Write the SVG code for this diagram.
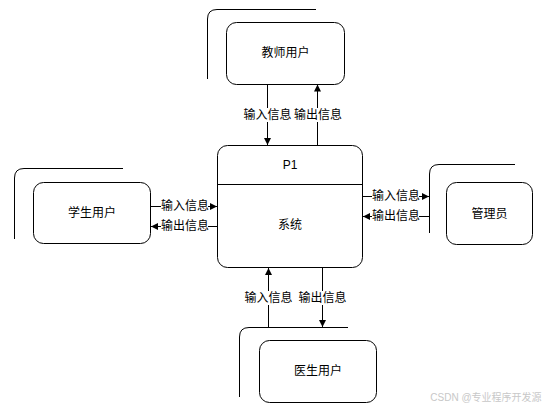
<svg xmlns="http://www.w3.org/2000/svg" width="544" height="410" viewBox="0 0 544 410">
<style>
.box{fill:#fff;stroke:#000;stroke-width:1}
.deco{fill:none;stroke:#000;stroke-width:1}
.t{font-family:"Liberation Sans","Noto Sans CJK SC",sans-serif;font-size:12px;fill:#000;text-anchor:middle;dominant-baseline:central}
.ln{fill:none;stroke:#000;stroke-width:1}
.bg{fill:#fff}
</style>
<defs>
<marker id="ah" viewBox="0 0 10 10" refX="10" refY="5" markerWidth="7" markerHeight="7" orient="auto" markerUnits="userSpaceOnUse">
<path d="M0,0 L10,5 L0,10 z" fill="#000"/>
</marker>
</defs>
<rect width="544" height="410" fill="#fff"/>
<g id="connectors">
<line class="ln" x1="267.5" y1="84.5" x2="267.5" y2="145" marker-end="url(#ah)"/>
<line class="ln" x1="317.5" y1="145" x2="317.5" y2="84.5" marker-end="url(#ah)"/>
<line class="ln" x1="151" y1="206.5" x2="217" y2="206.5" marker-end="url(#ah)"/>
<line class="ln" x1="217" y1="226.5" x2="151" y2="226.5" marker-end="url(#ah)"/>
<line class="ln" x1="363" y1="196.5" x2="429" y2="196.5" marker-end="url(#ah)"/>
<line class="ln" x1="429" y1="216.5" x2="363" y2="216.5" marker-end="url(#ah)"/>
<line class="ln" x1="268.5" y1="327" x2="268.5" y2="268" marker-end="url(#ah)"/>
<line class="ln" x1="322.5" y1="268" x2="322.5" y2="327" marker-end="url(#ah)"/>
<rect class="bg" x="244" y="108" width="47" height="14"/>
<text class="t" x="267.5" y="115">输入信息</text>
<rect class="bg" x="294" y="108" width="47" height="14"/>
<text class="t" x="318" y="115">输出信息</text>
<rect class="bg" x="161" y="199" width="47" height="14"/>
<text class="t" x="185" y="206">输入信息</text>
<rect class="bg" x="161" y="219" width="47" height="14"/>
<text class="t" x="185" y="226">输出信息</text>
<rect class="bg" x="372" y="189" width="47" height="14"/>
<text class="t" x="396" y="196">输入信息</text>
<rect class="bg" x="372" y="209" width="47" height="14"/>
<text class="t" x="396" y="216">输出信息</text>
<rect class="bg" x="245" y="291" width="47" height="14"/>
<text class="t" x="268.5" y="298">输入信息</text>
<rect class="bg" x="299" y="291" width="47" height="14"/>
<text class="t" x="322.5" y="298">输出信息</text>
</g>
<g id="teacher">
<path class="deco" d="M207.5,79 V19 Q207.5,9.5 217,9.5 H316"/>
<rect class="box" x="226.5" y="22.5" width="118" height="62" rx="10"/>
<text class="t" x="285.5" y="53">教师用户</text>
</g>
<g id="system">
<rect class="box" x="217.5" y="145.5" width="145" height="122" rx="10"/>
<line class="ln" x1="217.5" y1="184.5" x2="362.5" y2="184.5"/>
<text class="t" x="290" y="165">P1</text>
<text class="t" x="290" y="225">系统</text>
</g>
<g id="student">
<path class="deco" d="M14.5,239 V178 Q14.5,168.5 24,168.5 H123"/>
<rect class="box" x="33.5" y="182.5" width="117" height="61" rx="10"/>
<text class="t" x="92" y="213">学生用户</text>
</g>
<g id="manager">
<path class="deco" d="M429.5,233 V174 Q429.5,164.5 439,164.5 H515"/>
<rect class="box" x="446.5" y="182.5" width="86" height="62" rx="10"/>
<text class="t" x="489.5" y="213.5">管理员</text>
</g>
<g id="doctor">
<path class="deco" d="M239.5,397 V337 Q239.5,327.5 249,327.5 H348"/>
<rect class="box" x="259.5" y="340.5" width="117" height="62" rx="10"/>
<text class="t" x="318" y="371">医生用户</text>
</g>
<text x="486" y="397" style="font-family:'Liberation Sans','Noto Sans CJK SC',sans-serif;font-size:10px;fill:#c8c8c8;text-anchor:middle;dominant-baseline:central">CSDN @专业程序开发源</text>
</svg>
